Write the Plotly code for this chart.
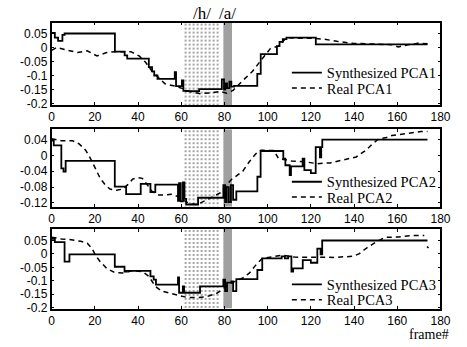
import plotly.graph_objects as go

# ---------------- data ----------------
x_ticks = [0, 20, 40, 60, 80, 100, 120, 140, 160, 180]
x_tick_labels = ["0", "20", "40", "60", "80", "100", "120", "140", "160", "180"]

y_ticks_1 = [0.05, 0.0, -0.05, -0.1, -0.15, -0.2]
y_labels_1 = ["0.05", "0", "-0.05", "-0.1", "-0.15", "-0.2"]
y_ticks_2 = [0.04, 0.0, -0.04, -0.08, -0.12]
y_labels_2 = ["0.04", "0", "-0.04", "-0.08", "-0.12"]
y_ticks_3 = [0.05, 0.0, -0.05, -0.1, -0.15, -0.2]
y_labels_3 = ["0.05", "0", "-0.05", "-0.1", "-0.15", "-0.2"]

h_region = [61, 78]
a_region = [79.5, 83.5]
region_labels = ["/h/", "/a/"]

pca1_syn_frame = [0, 1.5, 3, 5, 6, 29.3, 33.8, 35, 45, 46.5, 47.5, 49, 57, 57.6, 60.3, 61, 62.3, 68.3,
                  78.8, 79.8, 80.4, 81.2, 82.3, 83.2, 84.5, 95.2, 96.8, 104.3, 105.5, 107, 108.7, 122.3, 174]
pca1_syn = [0.052, 0.035, 0.024, 0.045, 0.05, -0.015, -0.028, -0.04, -0.07, -0.085, -0.1, -0.112, -0.088,
            -0.138, -0.118, -0.155, -0.156, -0.149, -0.114, -0.15, -0.128, -0.145, -0.122, -0.14, -0.137,
            -0.094, -0.024, 0.005, 0.02, 0.03, 0.035, 0.011, 0.011]
pca1_real_frame = [0, 2.25, 7.5, 12, 16.5, 21, 25.5, 29.25, 34.5, 36.75, 40.5, 43.5, 46.5, 49.5, 52.5, 57,
                   60.75, 64.5, 69, 73.5, 78, 81, 84, 88.5, 93, 97.5, 101.25, 105, 108.75, 114, 120, 126,
                   132, 139.5, 148.5, 157.5, 160.5, 165, 169.5, 174]
pca1_real = [-0.01, 0.0, -0.01, -0.018, -0.012, -0.03, -0.018, -0.015, -0.015, -0.015, -0.03, -0.053,
             -0.085, -0.106, -0.13, -0.138, -0.147, -0.159, -0.165, -0.162, -0.157, -0.163, -0.153, -0.118,
             -0.085, -0.04, -0.004, 0.005, 0.035, 0.033, 0.033, 0.03, 0.022, 0.015, 0.013, 0.01, 0.002,
             0.01, 0.015, 0.013]

pca2_syn_frame = [0, 1, 4.5, 5.5, 6.5, 29.25, 34.5, 41.25, 45.75, 48, 58.5, 59, 59.8, 60.8, 61.5, 62.3,
                  67.8, 79.5, 80.3, 81, 82, 83, 84, 85.5, 95.25, 96.75, 107.25, 108.2, 110.2, 110.8, 116.2,
                  117, 120, 122.25, 124.2, 124.8, 125.3, 174]
pca2_syn = [0.037, 0.025, -0.033, -0.041, -0.014, -0.079, -0.098, -0.072, -0.093, -0.074, -0.115, -0.07,
            -0.116, -0.068, -0.11, -0.124, -0.107, -0.075, -0.118, -0.08, -0.118, -0.075, -0.112, -0.091,
            -0.054, 0.011, -0.008, -0.025, -0.05, -0.028, -0.008, -0.037, -0.045, 0.021, -0.005, 0.021,
            0.04, 0.04]
pca2_real_frame = [0, 4.5, 9.75, 12.75, 15.75, 18, 20.25, 22.5, 24.75, 27, 30, 33, 35.25, 37.5, 39.75, 42,
                   44.25, 46.5, 49.5, 52.5, 55.5, 58.5, 61.5, 64.5, 67.5, 72, 78, 83, 88.5, 91.5, 94.5,
                   96.75, 100.5, 103, 105, 111, 117, 123, 129, 135, 141, 145.5, 148.5, 151.5, 155, 157.5,
                   163.5, 171, 174]
pca2_real = [0.042, 0.037, 0.037, 0.029, 0.013, -0.008, -0.033, -0.058, -0.074, -0.085, -0.088, -0.085,
             -0.074, -0.06, -0.056, -0.058, -0.074, -0.091, -0.1, -0.1, -0.098, -0.104, -0.115, -0.123,
             -0.124, -0.112, -0.095, -0.062, -0.04, -0.016, 0.004, 0.013, 0.013, 0.012, -0.008, -0.014,
             -0.016, -0.021, -0.019, -0.012, -0.004, 0.013, 0.029, 0.042, 0.045, 0.05, 0.054, 0.06, 0.06]

pca3_syn_frame = [0, 1.5, 6, 8.25, 29.25, 33.75, 34.5, 45.75, 47.25, 48.3, 58.5, 59, 60.75, 61.3, 68.7,
                  79.5, 80.3, 81.2, 83.25, 84, 85.5, 95.25, 97.5, 106.5, 108, 109.5, 111, 111.8, 116.25,
                  120, 123, 124.5, 125.25, 174]
pca3_syn = [0.056, 0.044, -0.029, -0.002, -0.048, -0.066, -0.063, -0.084, -0.096, -0.115, -0.088, -0.145,
            -0.121, -0.145, -0.121, -0.096, -0.139, -0.107, -0.103, -0.139, -0.094, -0.06, -0.017, -0.009,
            -0.017, -0.009, -0.066, -0.054, -0.023, -0.033, 0.02, -0.002, 0.05, 0.05]
pca3_real_frame = [0, 4.5, 9, 13.5, 16.5, 18.75, 20.25, 22.5, 25.5, 29.25, 33, 37.5, 42, 45, 48, 51, 55.5,
                   59.25, 63, 67.5, 72, 76.5, 79.5, 82.5, 85.5, 88.5, 91.5, 94.5, 97.5, 102, 106.5, 112.5,
                   118.5, 124.5, 130.5, 139.5, 142.5, 145.5, 150, 154.5, 160.5, 166.5, 172.5, 173.2, 173.8,
                   174.5]
pca3_real = [0.062, 0.056, 0.053, 0.047, 0.04, 0.02, -0.005, -0.029, -0.054, -0.07, -0.071, -0.063,
             -0.066, -0.084, -0.121, -0.139, -0.148, -0.155, -0.163, -0.163, -0.159, -0.147, -0.13, -0.112,
             -0.1, -0.09, -0.072, -0.042, -0.017, -0.011, -0.005, -0.012, -0.013, -0.013, -0.013, -0.009,
             0.001, 0.02, 0.044, 0.062, 0.063, 0.068, 0.069, None, 0.028, 0.022]

# ---------------- layout helpers ----------------
W, H = 467, 347
x_dom = [50 / W, 450 / W]
panels = [
    dict(n="1", sx=pca1_syn_frame, sy=pca1_syn, rx=pca1_real_frame, ry=pca1_real,
         yr=[-0.206, 0.089], tv=y_ticks_1, tt=y_labels_1, top=23, bot=107, leg=[74, 89.5]),
    dict(n="2", sx=pca2_syn_frame, sy=pca2_syn, rx=pca2_real_frame, ry=pca2_real,
         yr=[-0.130, 0.066], tv=y_ticks_2, tt=y_labels_2, top=131.5, bot=210.5, leg=[185, 200.5]),
    dict(n="3", sx=pca3_syn_frame, sy=pca3_syn, rx=pca3_real_frame, ry=pca3_real,
         yr=[-0.204, 0.093], tv=y_ticks_3, tt=y_labels_3, top=233, bot=314, leg=[289.5, 305]),
]

fig = go.Figure()
layout = dict(width=W, height=H, margin=dict(l=0, r=0, t=0, b=0),
              paper_bgcolor="white", plot_bgcolor="white", barmode="overlay",
              showlegend=True, annotations=[])

tick_font = dict(family="Liberation Sans, Arial", size=12, color="black")
leg_font = dict(family="Liberation Serif, Times New Roman", size=14.5, color="black")

leg_idx = 1
for i, p in enumerate(panels):
    k = "" if i == 0 else str(i + 1)
    xa, ya = "x" + k, "y" + k
    yr = p["yr"]
    # shaded phoneme regions
    fig.add_trace(go.Bar(x=[(h_region[0] + h_region[1]) / 2], y=[yr[1] - yr[0]], base=[yr[0]],
                         width=[h_region[1] - h_region[0]], xaxis=xa, yaxis=ya, showlegend=False,
                         hoverinfo="skip",
                         marker=dict(color="white", line_width=0,
                                     pattern=dict(shape=".", fgcolor="#111", bgcolor="white",
                                                  size=4, solidity=0.2))))
    fig.add_trace(go.Bar(x=[(a_region[0] + a_region[1]) / 2], y=[yr[1] - yr[0]], base=[yr[0]],
                         width=[a_region[1] - a_region[0]], xaxis=xa, yaxis=ya, showlegend=False,
                         hoverinfo="skip",
                         marker=dict(color="#9c9c9c", line_width=0,
                                     pattern=dict(shape=".", fgcolor="#5a5a5a", bgcolor="#b4b4b4",
                                                  size=2, solidity=0.5))))
    l1 = "legend" if leg_idx == 1 else "legend%d" % leg_idx
    l2 = "legend%d" % (leg_idx + 1)
    fig.add_trace(go.Scatter(x=p["sx"], y=p["sy"], mode="lines", name="Synthesized PCA" + p["n"],
                             line=dict(color="black", width=1.8, shape="hv"),
                             xaxis=xa, yaxis=ya, legend=l1))
    fig.add_trace(go.Scatter(x=p["rx"], y=p["ry"], mode="lines", name="Real PCA" + p["n"],
                             line=dict(color="black", width=1.5, dash="5px,4px"),
                             xaxis=xa, yaxis=ya, legend=l2, connectgaps=False))
    for j, (lname, yc) in enumerate([(l1, p["leg"][0]), (l2, p["leg"][1])]):
        layout[lname] = dict(x=292 / W, y=1 - yc / H, xanchor="left", yanchor="middle",
                             bgcolor="rgba(0,0,0,0)", font=leg_font, itemwidth=30,
                             borderwidth=0, tracegroupgap=0)
    leg_idx += 2

    axis_common = dict(showline=True, linecolor="black", linewidth=1.5, mirror="ticks",
                       ticks="inside", ticklen=3, tickcolor="black", tickwidth=1,
                       showgrid=False, zeroline=False, tickfont=tick_font, fixedrange=True)
    layout["xaxis" + k] = dict(axis_common, domain=x_dom, range=[0, 180], tickvals=x_ticks,
                               ticktext=x_tick_labels, anchor=ya)
    layout["yaxis" + k] = dict(axis_common, domain=[1 - p["bot"] / H, 1 - p["top"] / H], range=yr,
                               tickvals=p["tv"], ticktext=p["tt"], anchor=xa)

# region labels
for reg, lab in zip([h_region, a_region], region_labels):
    layout["annotations"].append(dict(x=(reg[0] + reg[1]) / 2, y=1 - 14 / H, xref="x", yref="paper",
                                      text=lab, showarrow=False, xanchor="center", yanchor="middle",
                                      font=dict(family="Liberation Serif, Times New Roman", size=17,
                                                color="black")))
layout["annotations"].append(dict(x=461 / W, y=1 - 340 / H, xref="paper", yref="paper", text="frame#",
                                  showarrow=False, xanchor="right", yanchor="middle",
                                  font=dict(family="Liberation Serif, Times New Roman", size=14,
                                            color="black")))

fig.update_layout(**layout)
fig.write_html("out.html", config={"displayModeBar": False},
               post_script="document.body.style.margin='0px';document.body.style.overflow='hidden';")
